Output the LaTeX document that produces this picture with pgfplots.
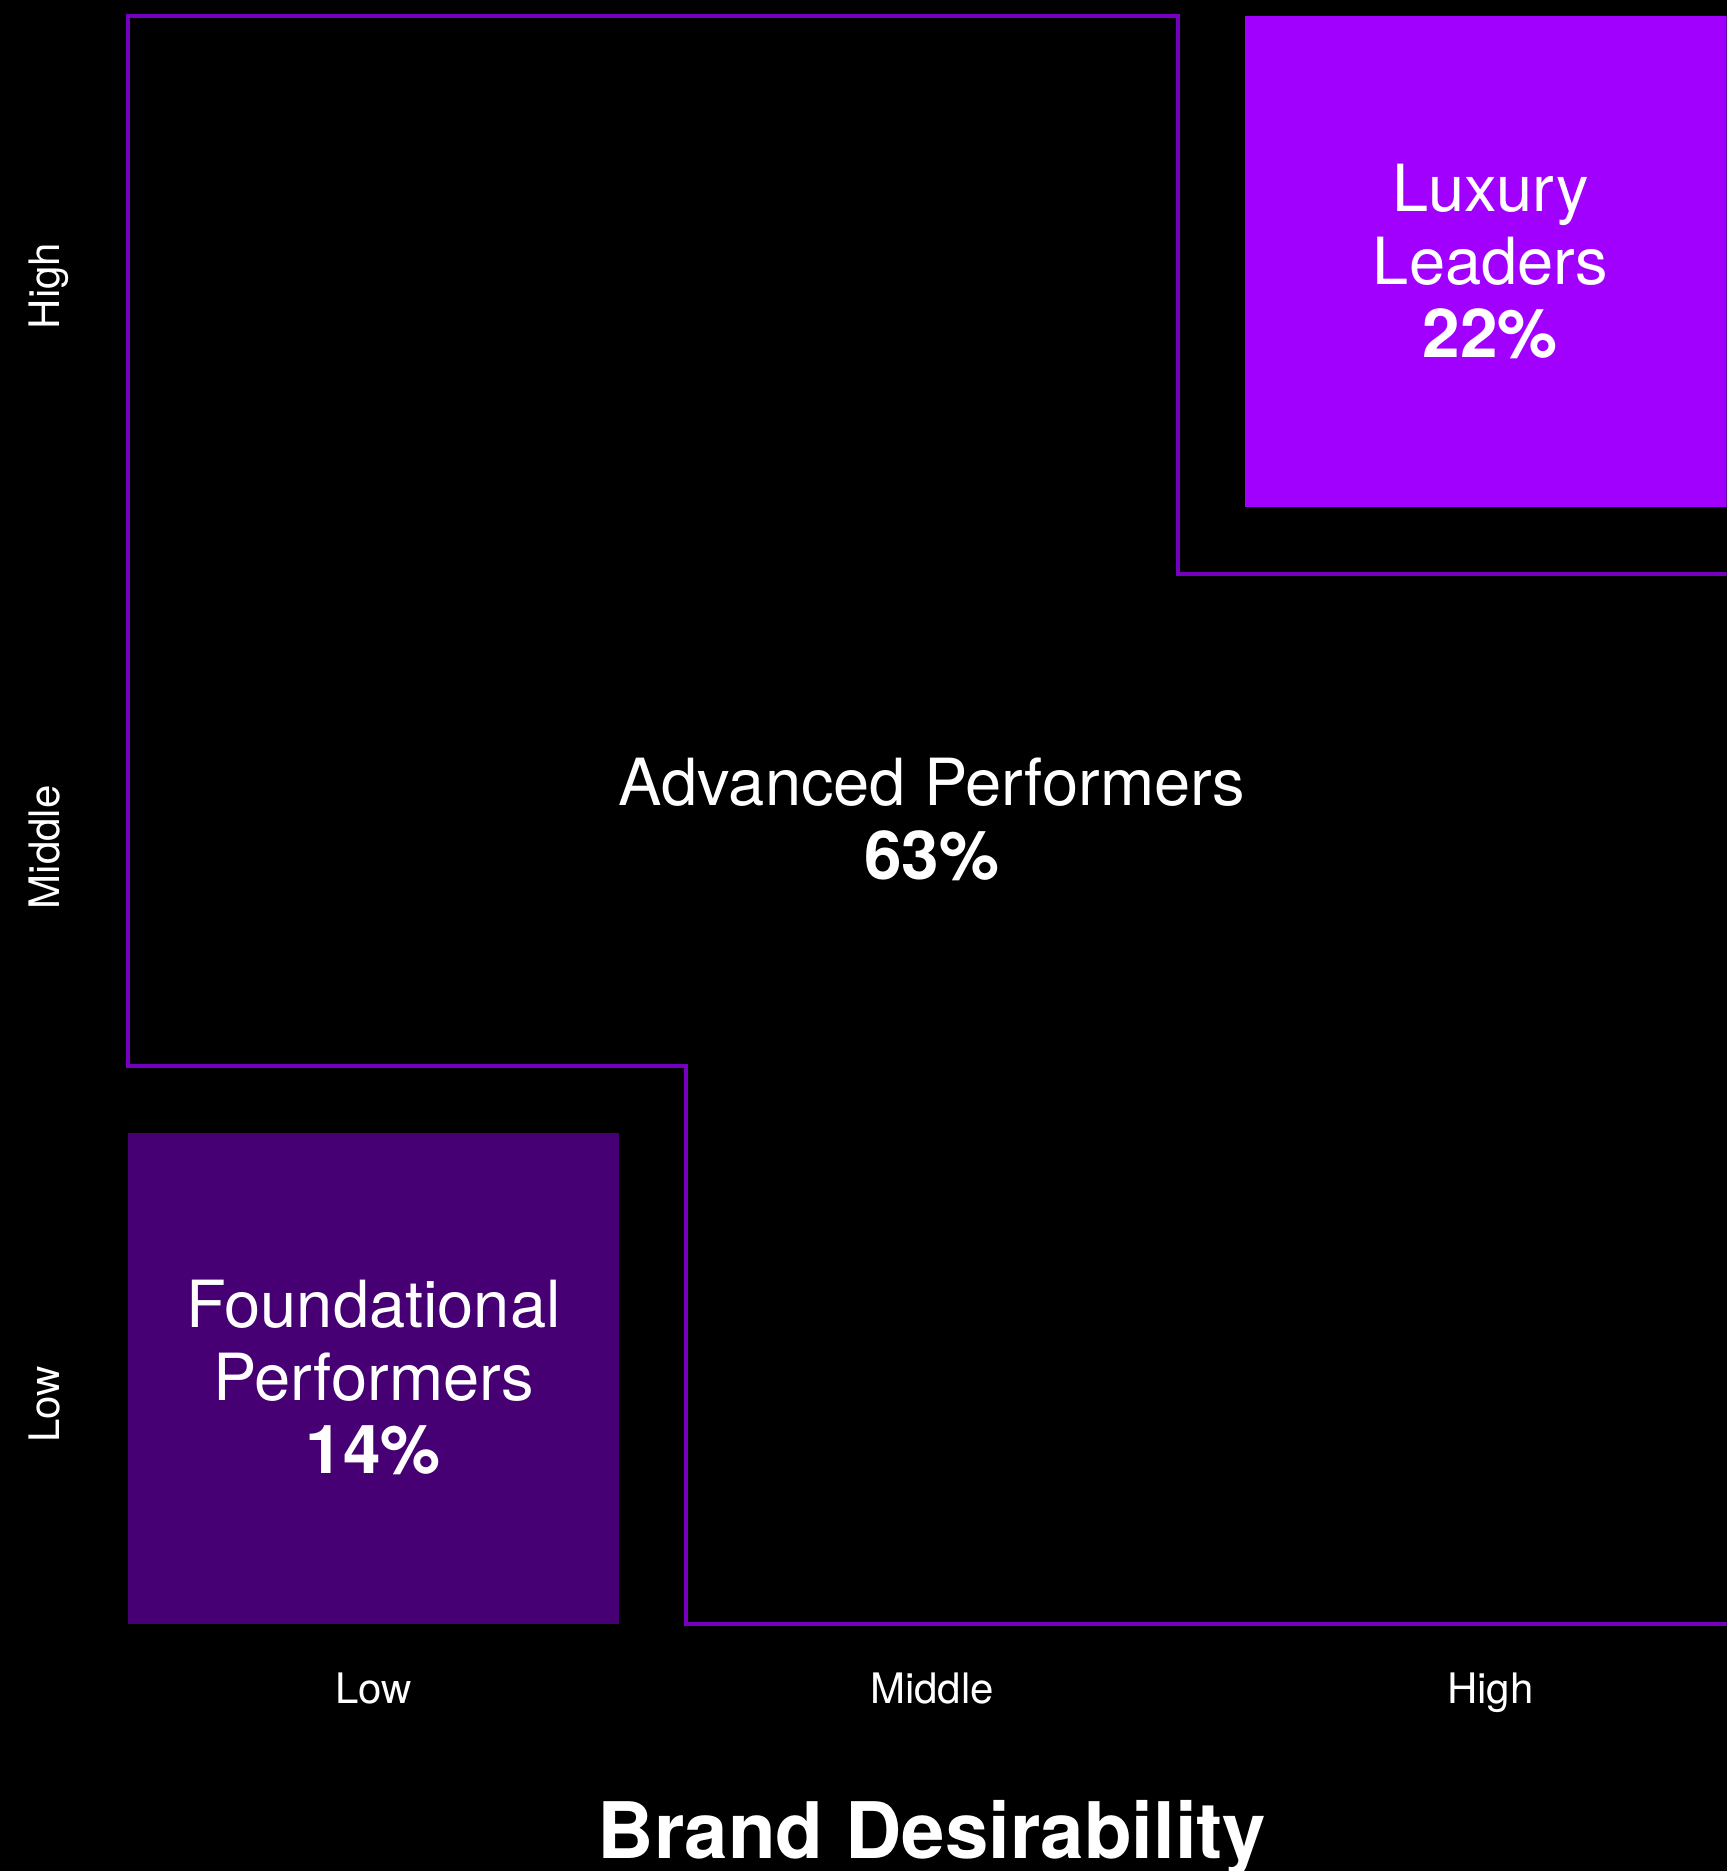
\documentclass[border=0pt]{standalone}
\usepackage{pgfplots}
\pgfplotsset{compat=1.18}
\usepackage{fontspec}
\setmainfont{TeX Gyre Heros}
\definecolor{luxpurple}{HTML}{A100FF}
\definecolor{founddark}{HTML}{460073}
\definecolor{edgepurple}{HTML}{7500C0}

\newcommand{\lbl}{\fontsize{13}{14.3}\selectfont}
\newcommand{\pct}{\fontsize{13.5}{14.3}\selectfont\bfseries}

\begin{document}
\begin{tikzpicture}
\begin{axis}[
  x=111.7pt, y=111.7pt,
  xmin=-0.2286, xmax=2.863,
  ymin=-0.442, ymax=2.908,
  axis background/.style={fill=black},
  axis line style={draw=none},
  tick style={draw=none},
  xtick={0.44,1.44,2.44},
  xticklabels={Low,Middle,High},
  ytick={0.393,1.391,2.396},
  yticklabels={Low,Middle,High},
  xticklabel style={font=\fontsize{8.4}{10}\selectfont, text=white,
    anchor=base, yshift=33.45pt},
  yticklabel style={font=\fontsize{8.4}{10}\selectfont, text=white,
    xshift=12pt, rotate=90, anchor=base},
  xlabel={Brand Desirability},
  xlabel style={at={(axis description cs:0.5398,0.0069)}, anchor=base,
    font=\bfseries\fontsize{15.6}{18}\selectfont, text=white},
]
% segment boxes (cell pitch 1, box side 0.88)
\addplot[draw=none, fill=founddark, mark=none]
  coordinates {(0,0) (0.88,0) (0.88,0.88) (0,0.88)} -- cycle;
\addplot[draw=none, fill=luxpurple, mark=none]
  coordinates {(2,2) (2.88,2) (2.88,2.88) (2,2.88)} -- cycle;
% outline of the advanced performers region
\addplot[draw=edgepurple, line width=0.8pt, line join=miter, mark=none]
  coordinates {(0,2.88) (1.88,2.88) (1.88,1.88) (2.88,1.88)
               (2.88,0) (1,0) (1,1) (0,1)} -- cycle;

\node[text=white, anchor=base, font=\lbl] at (axis cs:2.44,2.529) {Luxury};
\node[text=white, anchor=base, font=\lbl] at (axis cs:2.44,2.399) {Leaders};
\node[text=white, anchor=base, font=\pct] at (axis cs:2.44,2.267) {22\%};

\node[text=white, anchor=base, font=\lbl] at (axis cs:1.44,1.465) {Advanced Performers};
\node[text=white, anchor=base, font=\pct] at (axis cs:1.44,1.333) {63\%};

\node[text=white, anchor=base, font=\lbl] at (axis cs:0.44,0.532) {Foundational};
\node[text=white, anchor=base, font=\lbl] at (axis cs:0.44,0.400) {Performers};
\node[text=white, anchor=base, font=\pct] at (axis cs:0.44,0.270) {14\%};
\end{axis}
\pgfresetboundingbox
\path[use as bounding box] (current axis.south west) rectangle (current axis.north east);
\end{tikzpicture}
\end{document}
